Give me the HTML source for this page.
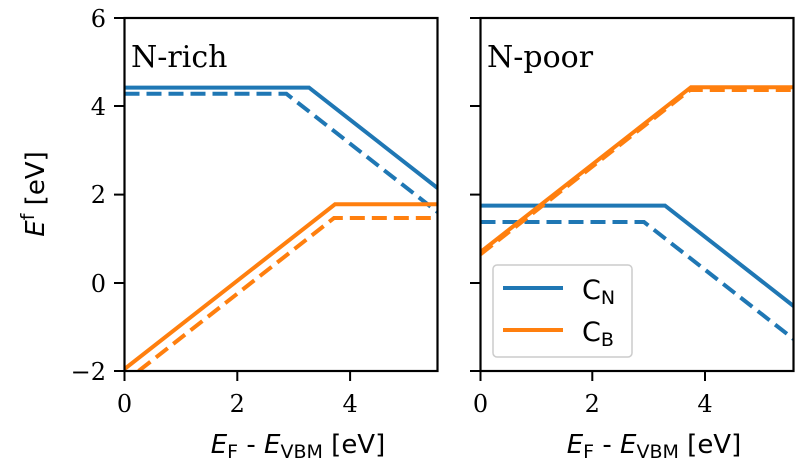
<!DOCTYPE html>
<html><head><meta charset="utf-8"><style>
html,body{margin:0;padding:0;background:#fff;}
svg{display:block;}
</style></head><body>
<svg width="804" height="471" viewBox="0 0 804 471" xmlns="http://www.w3.org/2000/svg">
<defs>
<clipPath id="cl"><rect x="124" y="18" width="314" height="353"/></clipPath>
<clipPath id="cr"><rect x="480" y="18" width="314" height="353"/></clipPath>
</defs>
<g clip-path="url(#cl)" fill="none" stroke-width="4">
<polyline stroke="#1f77b4" points="124.5,87.6 309,87.6 437.5,188"/>
<polyline stroke="#1f77b4" stroke-dasharray="15,7" points="124.5,93.8 286.4,93.8 437.5,212"/>
<polyline stroke="#ff7f0e" points="124.5,369 335,204.3 438,204.3"/>
<polyline stroke="#ff7f0e" stroke-dasharray="15,7" points="138.6,371 334,218 438,218"/>
</g>
<g clip-path="url(#cr)" fill="none" stroke-width="4">
<polyline stroke="#1f77b4" points="480.5,205.6 665,205.6 793.5,306"/>
<polyline stroke="#1f77b4" stroke-dasharray="15,7" points="480.5,222 644,222 793.5,339"/>
<polyline stroke="#ff7f0e" points="480.5,252 691,87.2 794,87.2"/>
<polyline stroke="#ff7f0e" stroke-dasharray="15,7" points="480.5,254.3 690,90 794,90"/>
</g>
<rect x="124.5" y="18" width="313" height="353" fill="none" stroke="#000" stroke-width="2.2"/>
<rect x="480.5" y="18" width="313" height="353" fill="none" stroke="#000" stroke-width="2.2"/>
<g stroke="#000" stroke-width="2">
<line x1="114" y1="18" x2="124" y2="18"/><line x1="114" y1="106" x2="124" y2="106"/>
<line x1="114" y1="194.6" x2="124" y2="194.6"/><line x1="114" y1="283" x2="124" y2="283"/>
<line x1="114" y1="371" x2="124" y2="371"/>
<line x1="470" y1="18" x2="480" y2="18"/><line x1="470" y1="106" x2="480" y2="106"/>
<line x1="470" y1="194.6" x2="480" y2="194.6"/><line x1="470" y1="283" x2="480" y2="283"/>
<line x1="470" y1="371" x2="480" y2="371"/>
<line x1="124.5" y1="371" x2="124.5" y2="381"/><line x1="237.3" y1="371" x2="237.3" y2="381"/><line x1="350.1" y1="371" x2="350.1" y2="381"/>
<line x1="480.5" y1="371" x2="480.5" y2="381"/><line x1="592.3" y1="371" x2="592.3" y2="381"/><line x1="705" y1="371" x2="705" y2="381"/>
</g>
<g style="font-family:'DejaVu Serif','Liberation Serif',serif;font-size:24px" fill="#000" text-anchor="end">
<text x="106" y="27">6</text><text x="106" y="115">4</text><text x="106" y="203">2</text>
<text x="106" y="292">0</text><text x="106" y="380">−2</text>
</g>
<g style="font-family:'DejaVu Serif','Liberation Serif',serif;font-size:24px" fill="#000" text-anchor="middle">
<text x="124.5" y="412">0</text><text x="237.3" y="412">2</text><text x="350.1" y="412">4</text>
<text x="480.5" y="412">0</text><text x="592.3" y="412">2</text><text x="705" y="412">4</text>
</g>
<text x="131" y="67" style="font-family:'DejaVu Serif','Liberation Serif',serif;font-size:30px">N-rich</text>
<text x="487" y="67" style="font-family:'DejaVu Serif','Liberation Serif',serif;font-size:30px">N-poor</text>
<g style="font-family:'DejaVu Sans','Liberation Sans',sans-serif;font-size:26px" fill="#000">
<text x="298" y="453" text-anchor="middle"><tspan font-style="italic">E</tspan><tspan style="font-size:19px" dy="5">F</tspan><tspan dy="-5"> - </tspan><tspan font-style="italic">E</tspan><tspan style="font-size:19px" dy="5">VBM</tspan><tspan dy="-5"> [eV]</tspan></text>
<text x="654" y="453" text-anchor="middle"><tspan font-style="italic">E</tspan><tspan style="font-size:19px" dy="5">F</tspan><tspan dy="-5"> - </tspan><tspan font-style="italic">E</tspan><tspan style="font-size:19px" dy="5">VBM</tspan><tspan dy="-5"> [eV]</tspan></text>
<text transform="translate(44,194) rotate(-90)" text-anchor="middle"><tspan font-style="italic">E</tspan><tspan style="font-size:19px" dy="-10">f</tspan><tspan dy="10"> [eV]</tspan></text>
<rect x="493" y="265" width="139" height="92" rx="4" fill="#fff" fill-opacity="0.85" stroke="#ccc" stroke-width="1.5"/>
<line x1="503" y1="288" x2="563" y2="288" stroke="#1f77b4" stroke-width="4"/>
<line x1="503" y1="330" x2="563" y2="330" stroke="#ff7f0e" stroke-width="4"/>
<text x="582" y="299" style="font-size:27px">C<tspan style="font-size:19px" dy="5">N</tspan></text>
<text x="582" y="341" style="font-size:27px">C<tspan style="font-size:19px" dy="5">B</tspan></text>
</g>
</svg>
</body></html>
